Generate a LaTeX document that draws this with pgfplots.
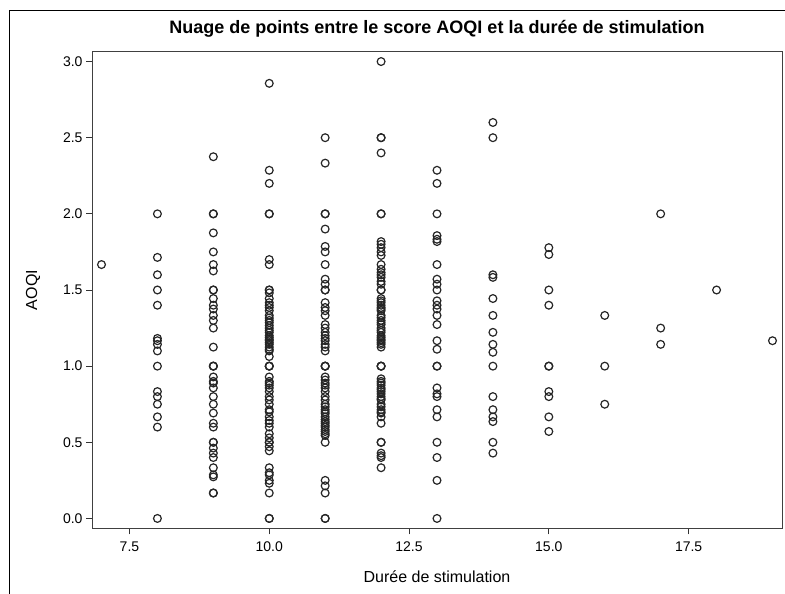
\documentclass[border=0pt]{standalone}
\usepackage{pgfplots}
\pgfplotsset{compat=1.18}
\usepackage{fontspec}
\setmainfont{Liberation Sans}

\begin{document}
\begin{tikzpicture}
\useasboundingbox (0,0) rectangle (785pt,594pt);
% outer frame of the output window
\draw[line width=1pt] (9.7pt,0) -- (9.7pt,583.3pt) -- (785pt,583.3pt);
\begin{axis}[
  at={(92pt,65.5pt)}, anchor=south west,
  scale only axis,
  width=690pt, height=477pt,
  xmin=6.83, xmax=19.17,
  ymin=-0.066, ymax=3.066,
  xtick={7.5,10,12.5,15,17.5},
  ytick={0,0.5,1,1.5,2,2.5,3},
  xtick pos=bottom, ytick pos=left,
  tick align=outside,
  major tick length=6pt,
  every tick/.style={black!80, line width=0.9pt},
  axis line style={black!75, line width=1pt},
  /pgf/number format/assume math mode=true,
  xticklabel style={font=\fontsize{14}{16}\selectfont, yshift=-4pt, /pgf/number format/.cd, fixed, fixed zerofill, precision=1},
  yticklabel style={font=\fontsize{14}{16}\selectfont, /pgf/number format/.cd, fixed, fixed zerofill, precision=1},
  xlabel={Durée de stimulation},
  ylabel={AOQI},
  label style={font=\fontsize{16}{18}\selectfont},
  xlabel style={at={(axis description cs:0.5,-0.1017)}, anchor=center},
  ylabel style={at={(axis description cs:-0.0855,0.5)}, anchor=center},
  title={Nuage de points entre le score AOQI et la durée de stimulation},
  title style={font=\bfseries\fontsize{18}{20}\selectfont, at={(axis description cs:0.5,1.036)}, anchor=center},
]
\addplot[only marks, mark=o, mark size=3.9pt, black!85, mark options={line width=1.2pt}] coordinates {
  (7,1.667)
  (8,2.0) (8,1.714) (8,1.6) (8,1.5) (8,1.4) (8,1.182) (8,1.167) (8,1.143) (8,1.1) (8,1.0)
  (8,0.833) (8,0.8) (8,0.75) (8,0.667) (8,0.6) (8,0.0)
  (9,2.375) (9,2.0) (9,2.0) (9,1.875) (9,1.75) (9,1.667) (9,1.625) (9,1.5) (9,1.5) (9,1.444)
  (9,1.4) (9,1.375) (9,1.333) (9,1.3) (9,1.25) (9,1.125) (9,1.0) (9,1.0) (9,1.0) (9,0.929)
  (9,0.9) (9,0.889) (9,0.857) (9,0.8) (9,0.75) (9,0.692) (9,0.625) (9,0.6) (9,0.5) (9,0.5)
  (9,0.462) (9,0.429) (9,0.4) (9,0.333) (9,0.286) (9,0.273) (9,0.167) (9,0.167)
  (10,2.857) (10,2.286) (10,2.2) (10,2.0) (10,2.0) (10,1.7) (10,1.667) (10,1.5) (10,1.5) (10,1.481)
  (10,1.444) (10,1.417) (10,1.4) (10,1.385) (10,1.364) (10,1.333) (10,1.316) (10,1.3) (10,1.286) (10,1.267)
  (10,1.25) (10,1.235) (10,1.222) (10,1.2) (10,1.188) (10,1.176) (10,1.167) (10,1.154) (10,1.143) (10,1.125)
  (10,1.111) (10,1.1) (10,1.063) (10,1.0) (10,1.0) (10,1.0) (10,0.929) (10,0.9) (10,0.889) (10,0.875)
  (10,0.857) (10,0.833) (10,0.8) (10,0.778) (10,0.75) (10,0.714) (10,0.7) (10,0.667) (10,0.643) (10,0.625)
  (10,0.6) (10,0.556) (10,0.529) (10,0.5) (10,0.5) (10,0.471) (10,0.444) (10,0.333) (10,0.3) (10,0.286)
  (10,0.25) (10,0.231) (10,0.167) (10,0.0) (10,0.0)
  (11,2.5) (11,2.333) (11,2.0) (11,2.0) (11,1.9) (11,1.786) (11,1.75) (11,1.667) (11,1.571) (11,1.538)
  (11,1.5) (11,1.5) (11,1.417) (11,1.385) (11,1.364) (11,1.333) (11,1.273) (11,1.25) (11,1.222) (11,1.2)
  (11,1.182) (11,1.167) (11,1.143) (11,1.125) (11,1.1) (11,1.0) (11,1.0) (11,1.0) (11,0.929) (11,0.909)
  (11,0.889) (11,0.875) (11,0.857) (11,0.833) (11,0.8) (11,0.778) (11,0.75) (11,0.733) (11,0.714) (11,0.7)
  (11,0.688) (11,0.667) (11,0.65) (11,0.636) (11,0.625) (11,0.611) (11,0.6) (11,0.583) (11,0.571) (11,0.556)
  (11,0.545) (11,0.5) (11,0.25) (11,0.214) (11,0.167) (11,0.0) (11,0.0)
  (12,3.0) (12,2.5) (12,2.5) (12,2.4) (12,2.0) (12,2.0) (12,1.818) (12,1.8) (12,1.778) (12,1.75)
  (12,1.727) (12,1.667) (12,1.636) (12,1.615) (12,1.6) (12,1.583) (12,1.556) (12,1.538) (12,1.5) (12,1.5)
  (12,1.444) (12,1.429) (12,1.417) (12,1.4) (12,1.385) (12,1.375) (12,1.364) (12,1.333) (12,1.318) (12,1.3)
  (12,1.286) (12,1.273) (12,1.25) (12,1.235) (12,1.222) (12,1.2) (12,1.188) (12,1.176) (12,1.167) (12,1.154)
  (12,1.143) (12,1.125) (12,1.0) (12,1.0) (12,1.0) (12,0.917) (12,0.9) (12,0.889) (12,0.875) (12,0.857)
  (12,0.846) (12,0.833) (12,0.818) (12,0.8) (12,0.786) (12,0.778) (12,0.75) (12,0.733) (12,0.714) (12,0.7)
  (12,0.692) (12,0.667) (12,0.625) (12,0.5) (12,0.5) (12,0.429) (12,0.412) (12,0.4) (12,0.333)
  (13,2.286) (13,2.2) (13,2.0) (13,1.857) (13,1.833) (13,1.818) (13,1.667) (13,1.571) (13,1.538) (13,1.5)
  (13,1.429) (13,1.4) (13,1.375) (13,1.333) (13,1.273) (13,1.167) (13,1.111) (13,1.0) (13,1.0) (13,0.857)
  (13,0.818) (13,0.8) (13,0.714) (13,0.667) (13,0.5) (13,0.4) (13,0.25) (13,0.0)
  (14,2.6) (14,2.5) (14,1.6) (14,1.583) (14,1.444) (14,1.333) (14,1.222) (14,1.143) (14,1.091) (14,1.0)
  (14,0.8) (14,0.714) (14,0.667) (14,0.636) (14,0.5) (14,0.429)
  (15,1.778) (15,1.733) (15,1.5) (15,1.4) (15,1.0) (15,1.0) (15,0.833) (15,0.8) (15,0.667) (15,0.571)
  (16,1.333) (16,1.0) (16,0.75)
  (17,2.0) (17,1.25) (17,1.143)
  (18,1.5)
  (19,1.167)
};
\end{axis}
\end{tikzpicture}
\end{document}
